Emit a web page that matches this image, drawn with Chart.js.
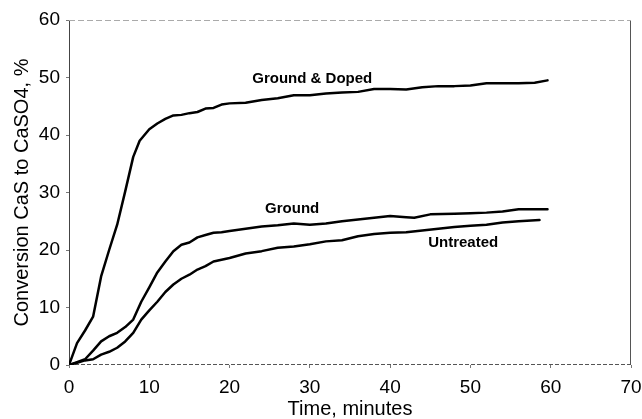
<!DOCTYPE html>
<html>
<head>
<meta charset="utf-8">
<script src="https://cdn.jsdelivr.net/npm/chart.js@4.4.0/dist/chart.umd.min.js"></script>
<style>
html,body{margin:0;padding:0;background:#fff;}
#wrap{width:642px;height:419px;position:relative;}
</style>
</head>
<body>
<div id="wrap"><canvas id="c" width="642" height="419"></canvas></div>
<script>
// Ground & Doped
const gdX = [0,1,2,3,4,5,6,7,8,8.8,10,11,12,13,14,15,16,17,18,19,20,22,24,26,28,30,32,34,36,38,40,42,44,46,48,50,52,54,56,58,59.6];
const gdY = [0,3.8,6,8.4,15.4,20,24.4,30.2,36.2,39.0,41,42,42.8,43.4,43.5,43.8,44.0,44.6,44.7,45.3,45.5,45.6,46.1,46.4,46.9,46.9,47.2,47.4,47.5,48.0,48.0,47.9,48.3,48.5,48.5,48.6,49.0,49.0,49.0,49.1,49.5];
// Ground
const grX = [0,1,2,3,4,5,6,7,8,9,10,11,12,13,14,15,16,17,18,19,20,22,24,26,28,30,32,34,36,38,40,42,43,45,48,50,52,54,56,58,59.6];
const grY = [0,0.5,1.0,2.5,4.1,5.0,5.6,6.6,7.9,11,13.5,16.1,18,19.8,20.9,21.3,22.2,22.6,23.0,23.1,23.3,23.7,24.1,24.3,24.6,24.4,24.6,25.0,25.3,25.6,25.9,25.7,25.6,26.2,26.3,26.4,26.5,26.7,27.1,27.1,27.1];
// Untreated
const unX = [0,1,2,3,4,5,6,7,8,9,10,11,12,13,14,15,16,17,18,19,20,22,24,26,28,30,32,34,36,38,40,42,44,46,48,50,52,54,56,58.6];
const unY = [0,0.4,0.8,1.0,1.8,2.3,3.0,4.1,5.6,7.9,9.5,11.0,12.7,14.0,15.0,15.7,16.6,17.2,18.0,18.3,18.6,19.4,19.8,20.4,20.6,21.0,21.5,21.7,22.4,22.8,23.0,23.1,23.4,23.7,24.0,24.2,24.4,24.8,25.0,25.2];

const seriesNames = ['Ground & Doped','Ground','Untreated'];
const labelPos = [[30.3,49.7],[27.8,27.1],[49.1,21.2]];

const xTicks = [0,10,20,30,40,50,60,70];
const yTicks = [0,10,20,30,40,50,60];

function pts(xs, ys){ return xs.map((x,i)=>({x:x,y:ys[i]})); }

const frame = {
  id:'frame',
  beforeDatasetsDraw(chart){
    const {ctx, chartArea:a} = chart;
    ctx.save();
    ctx.lineWidth = 1;
    ctx.strokeStyle = '#444';
    ctx.beginPath(); ctx.moveTo(a.left+0.5,a.top); ctx.lineTo(a.left+0.5,a.bottom); ctx.stroke();
    ctx.strokeStyle = '#555';
    ctx.beginPath(); ctx.moveTo(a.right-0.5,a.top); ctx.lineTo(a.right-0.5,a.bottom); ctx.stroke();
    ctx.strokeStyle = '#aaa';
    ctx.setLineDash([6,3]);
    ctx.beginPath(); ctx.moveTo(a.left,a.top+0.5); ctx.lineTo(a.right,a.top+0.5); ctx.stroke();
    ctx.strokeStyle = '#555';
    ctx.setLineDash([4,2]);
    ctx.beginPath(); ctx.moveTo(a.left,a.bottom-0.5); ctx.lineTo(a.right,a.bottom-0.5); ctx.stroke();
    ctx.restore();
  },
  afterDatasetsDraw(chart){
    const {ctx, scales} = chart;
    ctx.save();
    ctx.fillStyle = '#000';
    ctx.font = 'bold 15px "Liberation Sans", Arial, sans-serif';
    ctx.textAlign = 'center';
    ctx.textBaseline = 'middle';
    seriesNames.forEach((n,i)=>{
      ctx.fillText(n, scales.x.getPixelForValue(labelPos[i][0]), scales.y.getPixelForValue(labelPos[i][1]));
    });
    ctx.restore();
  }
};

const ds = (name, xs, ys) => ({
  label:name, data:pts(xs,ys), borderColor:'#000', borderWidth:2.5,
  pointRadius:0, tension:0, fill:false, borderJoinStyle:'round', borderCapStyle:'round'
});

new Chart(document.getElementById('c'), {
  type:'line',
  data:{ datasets:[ ds(seriesNames[0],gdX,gdY), ds(seriesNames[1],grX,grY), ds(seriesNames[2],unX,unY) ] },
  options:{
    responsive:false, animation:false, devicePixelRatio:1,
    layout:{ padding:{ left:0, right:11, top:20, bottom:0 } },
    plugins:{ legend:{display:false}, tooltip:{enabled:false} },
    scales:{
      x:{
        type:'linear', min:0, max:70,
        afterBuildTicks(s){ s.ticks = xTicks.map(v=>({value:v})); },
        afterFit(s){ s.height = 54; s.paddingRight = 0; s.paddingLeft = 0; },
        grid:{ display:true, drawOnChartArea:false, drawTicks:true, tickLength:3, color:'#777' },
        border:{ display:false },
        ticks:{ color:'#000', padding:8, font:{ family:'"Liberation Sans", Arial, sans-serif', size:19 }, maxRotation:0 },
        title:{ display:true, text:'Time, minutes', color:'#000', padding:{top:0,bottom:0},
                font:{ family:'"Liberation Sans", Arial, sans-serif', size:20, lineHeight:1.0 } }
      },
      y:{
        type:'linear', min:0, max:60,
        afterBuildTicks(s){ s.ticks = yTicks.map(v=>({value:v})); },
        afterFit(s){ s.width = 69; s.paddingTop = 0; s.paddingBottom = 0; },
        grid:{ display:true, drawOnChartArea:false, drawTicks:true, tickLength:3, color:'#777' },
        border:{ display:false },
        ticks:{ color:'#000', padding:6, font:{ family:'"Liberation Sans", Arial, sans-serif', size:19 } },
        title:{ display:true, text:'Conversion CaS to CaSO4, %', color:'#000', padding:{top:10,bottom:0},
                font:{ family:'"Liberation Sans", Arial, sans-serif', size:20, lineHeight:1.2 } }
      }
    }
  },
  plugins:[frame]
});
</script>
</body>
</html>
